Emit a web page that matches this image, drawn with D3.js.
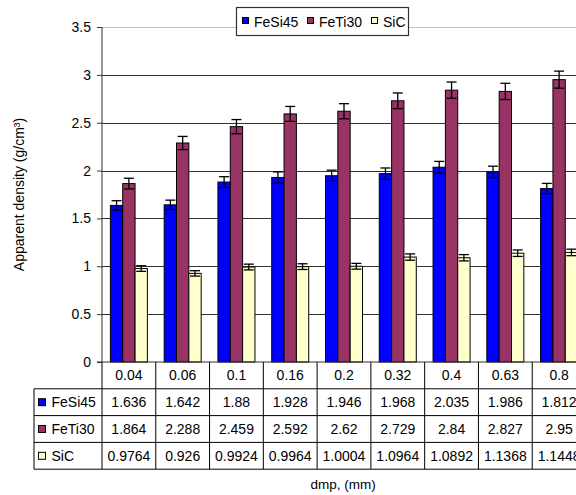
<!DOCTYPE html>
<html>
<head>
<meta charset="utf-8">
<script src="https://cdn.jsdelivr.net/npm/d3@7/dist/d3.min.js"></script>
<style>
  html, body { margin: 0; padding: 0; background: #fff; }
  svg { display: block; font-family: "Liberation Sans", Arial, sans-serif; }
</style>
</head>
<body>
<svg id="chart" width="576" height="495"></svg>
<script>
// Particle size classes (mm)
const categories = ["0.04", "0.06", "0.1", "0.16", "0.2", "0.32", "0.4", "0.63", "0.8"];
const seriesNames = ["FeSi45", "FeTi30", "SiC"];
const seriesColors = ["#0000FF", "#993366", "#FFFFCC"];

// Apparent density values (g/cm³)
const fesi45 = [1.636, 1.642, 1.88, 1.928, 1.946, 1.968, 2.035, 1.986, 1.812];
const feti30 = [1.864, 2.288, 2.459, 2.592, 2.62, 2.729, 2.84, 2.827, 2.95];
const sic = [0.9764, 0.926, 0.9924, 0.9964, 1.0004, 1.0964, 1.0892, 1.1368, 1.1448];

// Error bar half-widths
const fesi45Err = [0.049, 0.049, 0.056, 0.058, 0.058, 0.059, 0.061, 0.060, 0.054];
const feti30Err = [0.056, 0.069, 0.074, 0.078, 0.079, 0.082, 0.085, 0.085, 0.089];
const sicErr = [0.029, 0.028, 0.030, 0.030, 0.030, 0.033, 0.033, 0.034, 0.034];

// Value-axis ticks
const yTicks = [0, 0.5, 1, 1.5, 2, 2.5, 3, 3.5];
const yTickLabels = ["0", "0.5", "1", "1.5", "2", "2.5", "3", "3.5"];

// Table cell texts
const fesi45Text = ["1.636", "1.642", "1.88", "1.928", "1.946", "1.968", "2.035", "1.986", "1.812"];
const feti30Text = ["1.864", "2.288", "2.459", "2.592", "2.62", "2.729", "2.84", "2.827", "2.95"];
const sicText = ["0.9764", "0.926", "0.9924", "0.9964", "1.0004", "1.0964", "1.0892", "1.1368", "1.1448"];

(function () {
  const values = [fesi45, feti30, sic];
  const errors = [fesi45Err, feti30Err, sicErr];
  const tableValueText = [fesi45Text, feti30Text, sicText];

  const svg = d3.select("#chart");
  const plotLeft = 102, plotRight = 586, plotTop = 27, plotBottom = 362;
  const fontSize = 14;

  const x0 = d3.scaleBand().domain(categories).range([plotLeft, plotRight]).padding(0);
  const x1 = d3.scaleBand().domain(seriesNames).range([0, x0.bandwidth()])
    .paddingInner(0).paddingOuter(0.68);
  const y = d3.scaleLinear().domain([0, 3.5]).range([plotBottom, plotTop]);

  // Plot frame top edge
  svg.append("line")
    .attr("x1", plotLeft).attr("x2", plotRight)
    .attr("y1", Math.round(y(3.5)) + 0.5).attr("y2", Math.round(y(3.5)) + 0.5)
    .attr("stroke", "#c0c0c0").attr("stroke-width", 1);

  // Horizontal gridlines
  svg.append("g").selectAll("line")
    .data(yTicks.filter(t => t > 0 && t < 3.5))
    .join("line")
    .attr("x1", plotLeft).attr("x2", plotRight)
    .attr("y1", d => Math.round(y(d)) + 0.5).attr("y2", d => Math.round(y(d)) + 0.5)
    .attr("stroke", "#333").attr("stroke-width", 1);

  // Y axis
  const yAxis = d3.axisLeft(y).tickValues(yTicks)
    .tickFormat((d, i) => yTickLabels[i]).tickSize(5).tickPadding(6);
  const gy = svg.append("g").attr("transform", `translate(${plotLeft},0)`).call(yAxis);
  gy.select(".domain").attr("stroke", "#333").attr("d", `M0,${plotTop}V${plotBottom}`);
  gy.selectAll(".tick line").attr("stroke", "#333");
  gy.selectAll(".tick text").attr("font-size", fontSize)
    .attr("font-family", "Liberation Sans, Arial, sans-serif").attr("fill", "#000");

  // Bars
  const groups = svg.append("g").selectAll("g")
    .data(categories)
    .join("g")
    .attr("transform", d => `translate(${x0(d)},0)`);

  groups.each(function (cat, ci) {
    const g = d3.select(this);
    seriesNames.forEach((s, si) => {
      const v = values[si][ci];
      g.append("rect")
        .attr("x", x1(s)).attr("width", x1.bandwidth())
        .attr("y", y(v)).attr("height", y(0) - y(v))
        .attr("fill", seriesColors[si])
        .attr("stroke", "#000").attr("stroke-width", 1);
    });
  });

  // Error bars
  groups.each(function (cat, ci) {
    const g = d3.select(this);
    seriesNames.forEach((s, si) => {
      const v = values[si][ci], e = errors[si][ci];
      const cx = x1(s) + x1.bandwidth() / 2;
      const hw = 5;
      const eg = g.append("g").attr("stroke", "#000").attr("stroke-width", 1.3);
      eg.append("line").attr("x1", cx).attr("x2", cx).attr("y1", y(v + e)).attr("y2", y(v - e));
      eg.append("line").attr("x1", cx - hw).attr("x2", cx + hw).attr("y1", y(v + e)).attr("y2", y(v + e));
      eg.append("line").attr("x1", cx - hw).attr("x2", cx + hw).attr("y1", y(v - e)).attr("y2", y(v - e));
    });
  });

  // Category axis line
  svg.append("line")
    .attr("x1", plotLeft - 5).attr("x2", plotRight).attr("y1", plotBottom).attr("y2", plotBottom)
    .attr("stroke", "#333").attr("stroke-width", 1.2);

  // Data table under the chart
  const tableLeft = 34;
  const rowY = [plotBottom, 388.8, 415.6, 442.4, 469.2];
  const table = svg.append("g").attr("stroke", "#000").attr("stroke-width", 1);
  rowY.slice(1).forEach(ry => {
    table.append("line").attr("x1", tableLeft).attr("x2", plotRight).attr("y1", ry).attr("y2", ry);
  });
  categories.forEach(c => {
    table.append("line").attr("x1", x0(c)).attr("x2", x0(c)).attr("y1", plotBottom).attr("y2", rowY[4]);
  });
  table.append("line").attr("x1", plotRight).attr("x2", plotRight).attr("y1", plotBottom).attr("y2", rowY[4]);
  table.append("line").attr("x1", tableLeft).attr("x2", tableLeft).attr("y1", rowY[1]).attr("y2", rowY[4]);

  const tText = svg.append("g").attr("font-size", fontSize).attr("fill", "#000");
  // header row: category labels
  tText.selectAll("text.cat")
    .data(categories)
    .join("text")
    .attr("class", "cat")
    .attr("x", d => x0(d) + x0.bandwidth() / 2)
    .attr("y", (rowY[0] + rowY[1]) / 2 + 5)
    .attr("text-anchor", "middle")
    .text(d => d);

  // value rows with series keys
  seriesNames.forEach((s, si) => {
    const cy = (rowY[si + 1] + rowY[si + 2]) / 2;
    tText.append("g").selectAll("text")
      .data(categories)
      .join("text")
      .attr("x", d => x0(d) + x0.bandwidth() / 2)
      .attr("y", cy + 5)
      .attr("text-anchor", "middle")
      .text((d, ci) => tableValueText[si][ci]);
    svg.append("rect")
      .attr("x", 38.5).attr("y", cy - 3.5).attr("width", 7).attr("height", 7)
      .attr("fill", seriesColors[si]).attr("stroke", "#000").attr("stroke-width", 1);
    tText.append("text")
      .attr("x", 51.5).attr("y", cy + 5)
      .text(s);
  });

  // Legend
  const legend = svg.append("g");
  legend.append("rect")
    .attr("x", 236.5).attr("y", 7.5).attr("width", 172).attr("height", 28)
    .attr("fill", "#fff").attr("stroke", "#333").attr("stroke-width", 1.2);
  const legendX = [242.5, 307.5, 371.5];
  seriesNames.forEach((s, si) => {
    legend.append("rect")
      .attr("x", legendX[si]).attr("y", 17.5).attr("width", 6).attr("height", 6)
      .attr("fill", seriesColors[si]).attr("stroke", "#000").attr("stroke-width", 1);
    legend.append("text")
      .attr("x", legendX[si] + 11.5).attr("y", 26.5)
      .attr("font-size", fontSize).attr("fill", "#000")
      .text(s);
  });

  // Axis titles
  svg.append("text")
    .attr("transform", `translate(24,${(plotTop + plotBottom) / 2}) rotate(-90)`)
    .attr("text-anchor", "middle")
    .attr("font-size", 14).attr("fill", "#000")
    .text("Apparent density (g/cm³)");

  svg.append("text")
    .attr("x", 343).attr("y", 489)
    .attr("text-anchor", "middle")
    .attr("font-size", 13.5).attr("fill", "#000")
    .text("dmp, (mm)");
})();
</script>
</body>
</html>
